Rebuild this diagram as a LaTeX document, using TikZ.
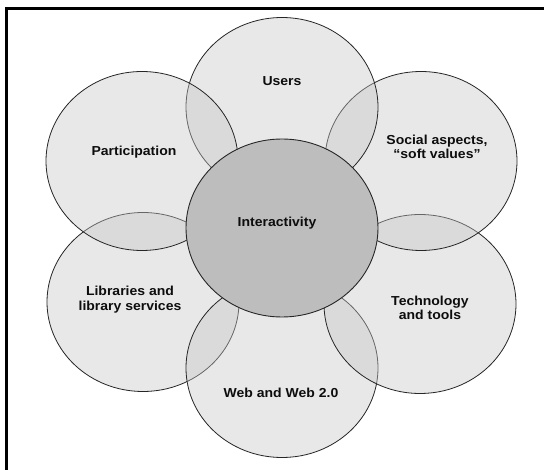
\documentclass[tikz,border=0pt]{standalone}
\usepackage{fontspec}
\setmainfont{Liberation Sans}
\usetikzlibrary{shapes.geometric}
\begin{document}
\begin{tikzpicture}[x=1pt,y=-1pt,
  petal/.style={ellipse, minimum width=192pt, minimum height=179pt, inner sep=0pt,
    draw=black!85, line width=0.8pt, fill=black!22, fill opacity=0.4},
  hub/.style={ellipse, minimum width=192pt, minimum height=178pt, inner sep=0pt,
    draw=black!85, line width=0.9pt, fill=black!26},
  lbl/.style={font=\bfseries\fontsize{14}{15.5}\selectfont, align=center,
    yscale=0.93, text=black!95, inner sep=0pt},
  frameline/.style={line width=2.7pt, draw=black}]
\useasboundingbox (0,0) rectangle (544,470);
\fill[white] (0,0) rectangle (544,470);
\draw[frameline] (6.5,470) -- (6.5,8.2) -- (544,8.2);
% petals, bottom to top
\node[petal] (libc)  at (143,302) {};
\node[petal] (webc)  at (282,368) {};
\node[petal] (techc) at (420,304) {};
\node[petal] (socc)  at (421,161) {};
\node[petal] (usrc)  at (282,107) {};
\node[petal] (parc)  at (142,161) {};
\node[hub]   (intc)  at (282,228) {};
% labels
\node[lbl, anchor=base] (usrt) at (282,85.8) {Users};
\node[lbl, anchor=base] (part) at (134,156) {Participation};
\node[lbl] (soct) at (437,147) {Social aspects,\\“soft values”};
\node[lbl] (libt) at (130,299.8) {Libraries and\\library services};
\node[lbl] (techt) at (430,307.9) {Technology\\and tools};
\node[lbl, anchor=base] (webt) at (281,397.7) {Web and Web 2.0};
\node[lbl, anchor=base] (intt) at (277,226.7) {Interactivity};
\end{tikzpicture}
\end{document}
